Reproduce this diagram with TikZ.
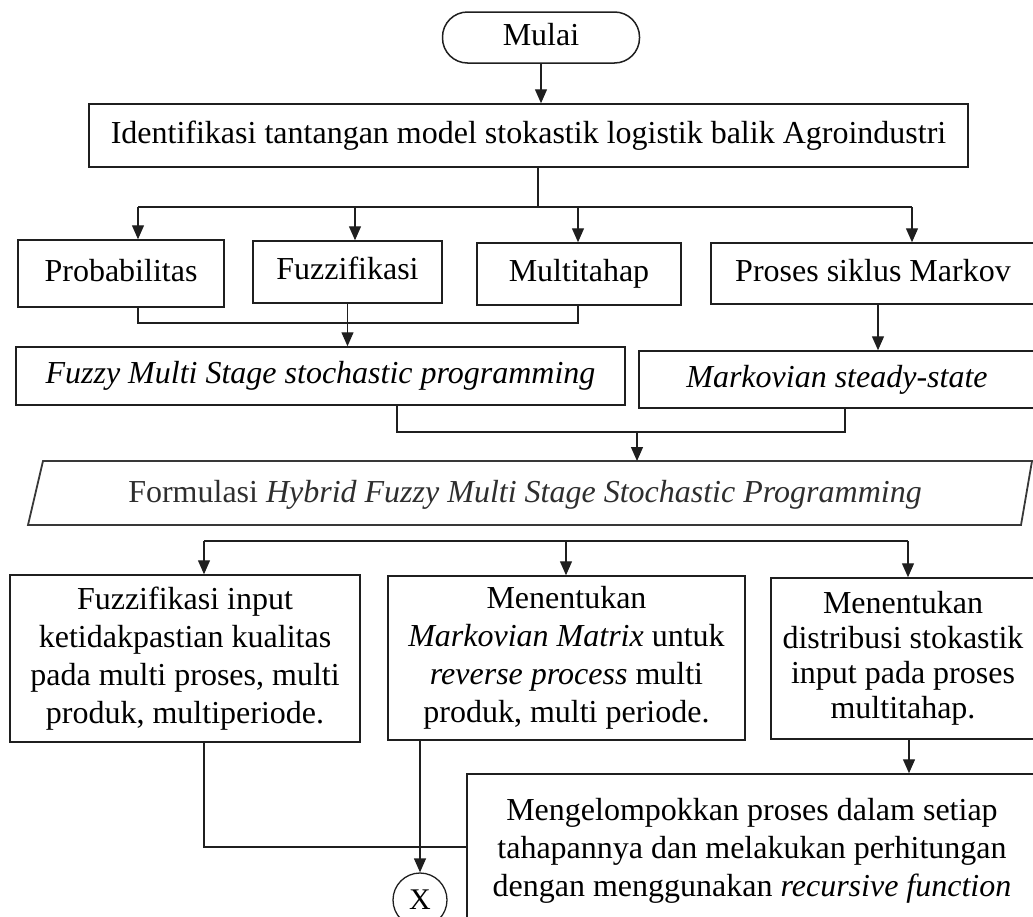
\documentclass[tikz,border=0pt]{standalone}
\usepackage{fontspec}
\setmainfont{Liberation Serif}
\usetikzlibrary{arrows.meta}
\begin{document}
\begin{tikzpicture}[x=1pt,y=-1pt,
  boxnode/.style={draw=black!88, line width=1.5pt, rectangle, inner sep=0pt,
    align=center, font=\fontsize{32}{38}\selectfont},
  oneline/.style={boxnode, text height=22pt, text depth=7pt},
  plain/.style={inner sep=0pt, align=center, font=\fontsize{32}{38}\selectfont},
  link/.style={draw=black!88, line width=1.3pt},
  arr/.style={link, -{Triangle[length=14pt,width=12pt]}},
  bus/.style={draw=black!88, line width=2.6pt},
]
\useasboundingbox (0,0) rectangle (1033,916);
\clip (0,0) rectangle (1033,916);

% start and problem identification
\node[oneline, rounded corners=25pt, minimum width=197pt, minimum height=51pt] (start) at (541,37.5) {Mulai};
\node[oneline, minimum width=879pt, minimum height=63pt] (ident) at (528.5,135.5)
  {Identifikasi tantangan model stokastik logistik balik Agroindustri};
\draw[arr] (start.south) -- (start.south |- ident.north);

% four aspects
\node[oneline, minimum width=206pt, minimum height=67pt] (prob) at (121,273.5) {Probabilitas};
\node[oneline, minimum width=189pt, minimum height=62pt] (fuzz) at (347.5,272) {Fuzzifikasi};
\node[oneline, minimum width=204pt, minimum height=62pt] (multi) at (579,274) {Multitahap};
\node[oneline, minimum width=324pt, minimum height=61pt] (proses) at (873,273.5) {Proses siklus Markov};

\coordinate (t0) at (538,207);
\coordinate (d1) at (138,207);
\coordinate (d2) at (355,207);
\coordinate (d3) at (578,207);
\coordinate (d4) at (912,207);
\draw[link] (ident.south -| t0) -- (t0);
\draw[bus] (d1) -- (d4);
\draw[arr] (d1) -- (d1 |- prob.north);
\draw[arr] (d2) -- (d2 |- fuzz.north);
\draw[arr] (d3) -- (d3 |- multi.north);
\draw[arr] (d4) -- (d4 |- proses.north);

% model approaches
\node[oneline, minimum width=609pt, minimum height=58pt] (fms) at (320.5,376)
  {\itshape Fuzzy Multi Stage stochastic programming};
\node[oneline, minimum width=396pt, minimum height=57pt] (mss) at (837,379.5)
  {\itshape Markovian steady-state};

\coordinate (m1) at (138,323);
\coordinate (m3) at (578,323);
\draw[link] (prob.south -| m1) -- (m1) -- (m3) -- (multi.south -| m3);
\draw[arr] (fuzz.south) -- (fuzz.south |- fms.north);
\coordinate (k0) at (878,0);
\draw[arr] (proses.south -| k0) -- (k0 |- mss.north);

% hybrid formulation
\node[plain, text height=22pt, text depth=7pt, minimum height=64pt, text=black!82] (paral) at (525,495)
  {Formulasi \textit{Hybrid Fuzzy Multi Stage Stochastic Programming}};
\draw[draw=black!78, line width=1.8pt, line join=miter]
  (43,461) -- (1032,461) -- (1021,525) -- (28,525) -- cycle;

\coordinate (n1) at (397,432);
\coordinate (n0) at (637,432);
\coordinate (n2) at (845,432);
\draw[link] (fms.south -| n1) -- (n1) -- (n2) -- (mss.south -| n2);
\draw[arr] (n0) -- (n0 |- 0,461);

% solution steps
\node[boxnode, minimum width=350pt, minimum height=167pt] (box1) at (185,658.5)
  {Fuzzifikasi input\\ketidakpastian kualitas\\pada multi proses, multi\\produk, multiperiode.};
\node[boxnode, minimum width=357pt, minimum height=164pt] (box2) at (566.5,658)
  {Menentukan\\\textit{Markovian Matrix} untuk\\\textit{reverse process} multi\\produk, multi periode.};
\node[boxnode, minimum width=264pt, minimum height=161pt,
  font=\fontsize{32}{35}\selectfont] (box3) at (903,658.5)
  {Menentukan\\distribusi stokastik\\input pada proses\\multitahap.};

\coordinate (e1) at (204,541);
\coordinate (e2) at (566,541);
\coordinate (e3) at (908,541);
\draw[bus] (e1) -- (e3);
\draw[arr] (e1) -- (e1 |- box1.north);
\draw[arr] (e2) -- (e2 |- box2.north);
\draw[arr] (e3) -- (e3 |- box3.north);

\node[boxnode, minimum width=570pt, minimum height=154pt] (box4) at (752,851)
  {Mengelompokkan proses dalam setiap\\tahapannya dan melakukan perhitungan\\dengan menggunakan \textit{recursive function}};
\coordinate (g0) at (909,0);
\draw[arr] (box3.south -| g0) -- (g0 |- box4.north);

% off-page connector
\node[draw=black!88, line width=1.3pt, circle, minimum size=54pt, inner sep=0pt,
  font=\fontsize{30}{36}\selectfont] (xcon) at (420,900) {X};

\coordinate (f1) at (204,847);
\draw[link] (box1.south -| f1) -- (f1) -- (f1 -| box4.west);
\coordinate (h0) at (420,0);
\draw[arr] (box2.south -| h0) -- (h0 |- xcon.north);
\end{tikzpicture}
\end{document}
